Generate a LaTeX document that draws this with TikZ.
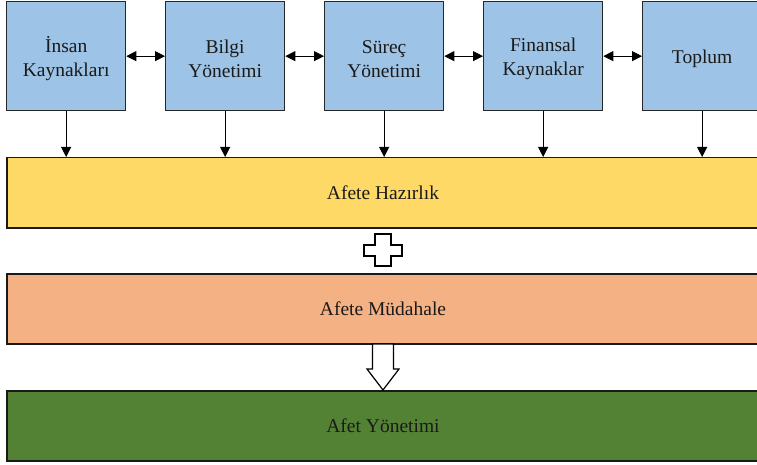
\documentclass[tikz,border=0pt]{standalone}
\usepackage{fontspec}
\setmainfont{Liberation Serif}
\usetikzlibrary{arrows.meta}
\definecolor{boxblue}{HTML}{9DC3E6}
\definecolor{prepyellow}{HTML}{FFD966}
\definecolor{resporange}{HTML}{F4B183}
\definecolor{mgmtgreen}{HTML}{548235}
\definecolor{inkgray}{HTML}{1A1A1A}
\tikzset{
  areabox/.style={draw=black!85, line width=1.3pt, fill=boxblue, minimum width=119pt,
    minimum height=109pt, anchor=north west, inner sep=0pt},
  areatext/.style={align=center, inner sep=0pt, text=inkgray,
    font=\fontsize{19.5}{24}\selectfont},
  bar/.style={draw=black!90, line width=1.5pt, minimum width=790pt, minimum height=70pt,
    anchor=north west, inner sep=0pt},
  bartext/.style={text=inkgray, font=\fontsize{19.5}{24}\selectfont},
  link/.style={line width=0.8pt, {Triangle[length=10pt,width=10pt]}-{Triangle[length=10pt,width=10pt]}},
  feed/.style={line width=0.8pt, -{Triangle[length=10pt,width=10pt]}},
  hollow/.style={draw=black, line width=1.2pt, fill=white, line join=miter}
}
\begin{document}
\begin{tikzpicture}[x=1pt,y=-1pt]
\useasboundingbox (0,0) rectangle (757,465);
\clip (0,0) rectangle (757,465);
\fill[white] (0,0) rectangle (757,465);

% five contributing areas
\node[areabox] (ik) at (6,1) {};
\node[areabox] (by) at (165,1) {};
\node[areabox] (sy) at (324,1) {};
\node[areabox] (fk) at (483,1) {};
\node[areabox] (tp) at (642,1) {};
\node[areatext] (ikt) at ([yshift=-2.5pt]ik.center) {İnsan\\Kaynakları};
\node[areatext] (byt) at ([yshift=-2.5pt]by.center) {Bilgi\\Yönetimi};
\node[areatext] (syt) at ([yshift=-2.5pt]sy.center) {Süreç\\Yönetimi};
\node[areatext] (fkt) at ([yshift=-2.5pt]fk.center) {Finansal\\Kaynaklar};
\node[areatext] (tpt) at ([yshift=-2.5pt]tp.center) {Toplum};

% horizontal phases
\node[bar, fill=prepyellow] (hz) at (6,157) {};
\node[bartext] (hzt) at (383,193) {Afete Hazırlık};
\node[bar, fill=resporange] (md) at (6,273) {};
\node[bartext] (mdt) at (383,309) {Afete Müdahale};
\node[bar, fill=mgmtgreen] (ay) at (6,390) {};
\node[bartext] (ayt) at (383,425.5) {Afet Yönetimi};

% links between neighbouring areas
\draw[link] (ik.east) -- (by.west);
\draw[link] (by.east) -- (sy.west);
\draw[link] (sy.east) -- (fk.west);
\draw[link] (fk.east) -- (tp.west);

% each area feeds preparedness
\foreach \n in {ik,by,sy,fk,tp}
  \draw[feed] (\n.south) -- (\n.south |- hz.north);

% plus sign between preparedness and response
\draw[hollow] (375,234) -- (391,234) -- (391,245) -- (402,245) -- (402,256) -- (391,256)
  -- (391,266) -- (375,266) -- (375,256) -- (364,256) -- (364,245) -- (375,245) -- cycle;

% block arrow from response to management
\draw[hollow] (372.5,344) -- (393.5,344) -- (393.5,369) -- (399,369) -- (383,390)
  -- (367,369) -- (372.5,369) -- cycle;
\end{tikzpicture}
\end{document}
